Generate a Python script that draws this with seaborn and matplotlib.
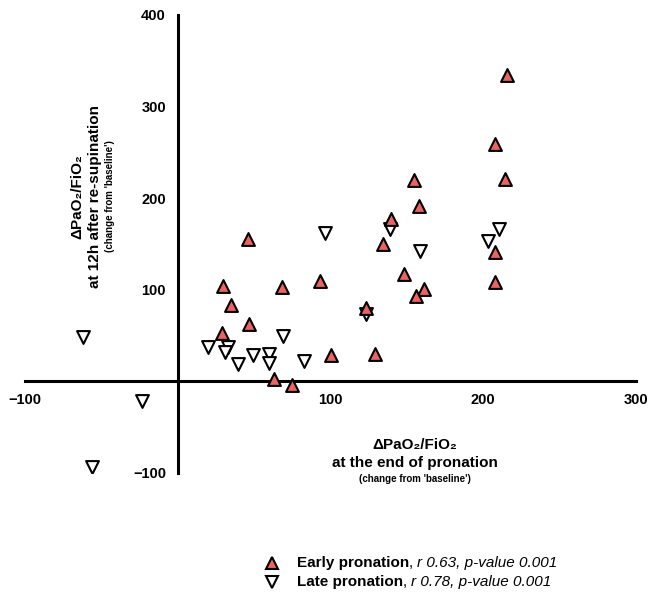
import pandas as pd
import seaborn as sns
import matplotlib.pyplot as plt
from matplotlib.lines import Line2D

# Early pronation (red up triangles)
early_x = [215.6, 207.8, 214.2, 154.7, 157.8, 139.9, 134.3, 148.4, 160.9, 155.9,
           207.8, 207.8, 93.0, 46.0, 29.7, 68.1, 35.1, 46.7, 28.8, 62.9, 75.1,
           123.3, 100.0, 129.4]
early_y = [334, 259, 221, 220, 192, 177, 150, 117, 101, 93,
           141, 109, 110, 155.5, 104, 103, 83, 63, 53, 3, -4,
           80, 29, 30]

# Late pronation (open down triangles)
late_x = [139.0, 158.7, 210.2, 202.8, 96.7, 68.8, 19.9, 33.0, 30.8, 49.3, 59.8,
          39.6, 59.8, 82.5, -62.0, -23.1, -55.9, 123.3]
late_y = [166.5, 142, 166.5, 153, 162, 49, 38, 38, 32, 29, 30,
          19, 20, 22, 48, -21, -94, 74]

legend_names = ['Early pronation', 'Late pronation']
legend_stats = ['r 0.63, p-value 0.001', 'r 0.78, p-value 0.001']

red = '#ef6262'

sns.set_style("white")
plt.rcParams['font.family'] = ['Liberation Sans', 'DejaVu Sans']
plt.rcParams['text.color'] = 'black'

early = pd.DataFrame({'x': early_x, 'y': early_y})
late = pd.DataFrame({'x': late_x, 'y': late_y})

fig = plt.figure(figsize=(6.48, 5.99), dpi=100)
ax = fig.add_axes([0.0386, 0.2104, 0.9429, 0.7646])

sns.scatterplot(data=late, x='x', y='y', marker='v', s=85, color='white',
                edgecolor='black', linewidth=1.5, ax=ax, zorder=3)
sns.scatterplot(data=early, x='x', y='y', marker='^', s=85, color=red,
                edgecolor='black', linewidth=1.5, ax=ax, zorder=4)

ax.set_xlim(-100, 300)
ax.set_ylim(-100, 400)
ax.spines['left'].set_position(('data', 0))
ax.spines['bottom'].set_position(('data', 0))
ax.spines['top'].set_visible(False)
ax.spines['right'].set_visible(False)
for s in ['left', 'bottom']:
    ax.spines[s].set_linewidth(2.2)
    ax.spines[s].set_color('black')
ax.set_xticks([-100, 100, 200, 300])
ax.set_yticks([-100, 100, 200, 300, 400])
ax.tick_params(axis='both', direction='out', length=5, width=2.2,
               labelsize=10.5, colors='black')
for lab in ax.get_xticklabels() + ax.get_yticklabels():
    lab.set_fontweight('bold')
ax.set_xlabel('')
ax.set_ylabel('')

# axis titles
fig.text(0.120, 0.672, 'ΔPaO₂/FiO₂', rotation=90, ha='center', va='center',
         fontsize=11, fontweight='bold')
fig.text(0.146, 0.672, 'at 12h after re-supination', rotation=90, ha='center',
         va='center', fontsize=11, fontweight='bold')
fig.text(0.170, 0.672, "(change from 'baseline')", rotation=90, ha='center',
         va='center', fontsize=7, fontweight='bold')

fig.text(0.64, 0.257, 'ΔPaO₂/FiO₂', ha='center', va='center',
         fontsize=11, fontweight='bold')
fig.text(0.64, 0.227, 'at the end of pronation', ha='center', va='center',
         fontsize=11, fontweight='bold')
fig.text(0.64, 0.201, "(change from 'baseline')", ha='center', va='center',
         fontsize=7, fontweight='bold')

# legend built by hand (bold name + italic stats)
renderer = fig.canvas.get_renderer()
fw = fig.get_figwidth() * fig.dpi
styles = [dict(marker='^', markerfacecolor=red), dict(marker='v', markerfacecolor='white')]
for i, (name, stat) in enumerate(zip(legend_names, legend_stats)):
    yy = 0.0601 - i * 0.0317
    fig.add_artist(Line2D([0.42], [yy], transform=fig.transFigure, linestyle='none',
                          markersize=9, markeredgecolor='black', markeredgewidth=1.5,
                          **styles[i]))
    t1 = fig.text(0.458, yy, name, fontsize=11, fontweight='bold', va='center')
    x1 = t1.get_window_extent(renderer).x1 / fw
    t2 = fig.text(x1, yy, ', ', fontsize=11, va='center')
    x2 = t2.get_window_extent(renderer).x1 / fw
    fig.text(x2, yy, stat, fontsize=11, style='italic', va='center')

plt.savefig('out.png', dpi=100)
plt.close()
